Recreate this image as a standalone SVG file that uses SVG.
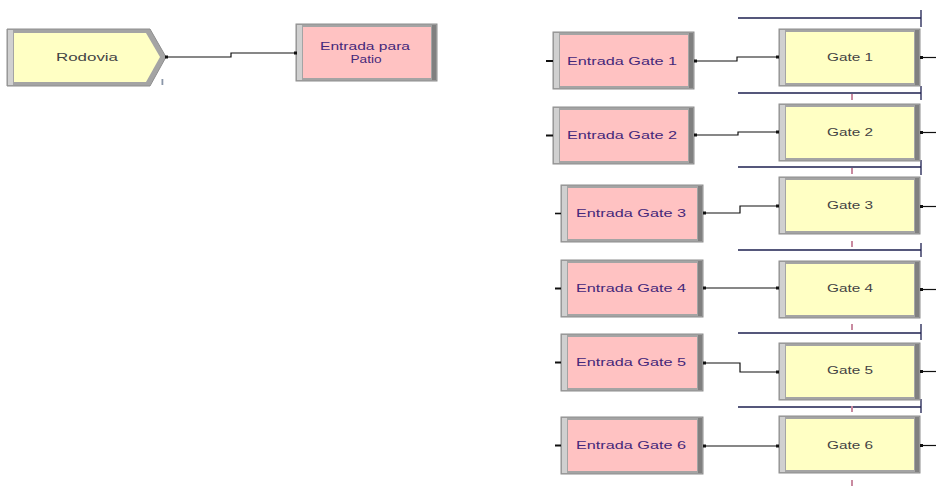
<svg xmlns="http://www.w3.org/2000/svg" width="936" height="486" viewBox="0 0 936 486">
<defs>
<style>
.frame{fill:#a4a4a4;stroke:#8e8e8e;stroke-width:1}
.lbar{fill:#d0d0d0}
.rbar{fill:#808080}
.yel{fill:#ffffc4}
.pink{fill:#ffc2c2}
.t{font-family:"Liberation Sans",Arial,sans-serif;font-size:10.5px;text-anchor:middle}
.tg{fill:#444444}
.tp{fill:#45287a}
.conn{fill:none;stroke:#111;stroke-width:1.2}
.q{fill:none;stroke:#1e2050;stroke-width:1.3}
.port{fill:#111}
.cnt{fill:#c98aa0}
</style>
</defs>
<rect width="936" height="486" fill="#ffffff"/>

<g id="connectors">
<polyline class="conn" points="167,57 231,57 231,53 296,53"/>
<polyline class="conn" points="694,61 737,61 737,57 778,57"/>
<polyline class="conn" points="694,135 738,135 738,132 778,132"/>
<polyline class="conn" points="703,213 740,213 740,206 778,206"/>
<polyline class="conn" points="703,288 778,288"/>
<polyline class="conn" points="703,363 740,363 740,372 778,372"/>
<polyline class="conn" points="703,446 778,446"/>
</g>

<g id="queues">
<path class="q" d="M738,18H921M921,10V27"/>
<path class="q" d="M738,93H921M921,86V100"/>
<path class="q" d="M738,167H921M921,160V175"/>
<path class="q" d="M738,250H921M921,243V257"/>
<path class="q" d="M738,333H921M921,324V340"/>
<path class="q" d="M738,407H921M921,399V413"/>
</g>

<g id="rodovia">
<polygon points="7,29 150,29 166,57 150,86 7,86" fill="#a4a4a4" stroke="#8e8e8e"/>
<rect x="8" y="30" width="5" height="55" class="lbar"/>
<polygon points="14,33 146,33 160,57 146,82 14,82" class="yel"/>
<text x="87" y="60.5" class="t tg" textLength="62" lengthAdjust="spacingAndGlyphs">Rodovia</text>
<rect x="165" y="55.5" width="3" height="3" class="port"/>
<rect x="161.5" y="79" width="1.8" height="6" fill="#8a96a8"/>
</g>

<g id="entrada-patio">
<rect x="296" y="24" width="141" height="57" class="frame"/>
<rect x="297" y="25" width="5" height="55" class="lbar"/>
<rect x="432" y="25" width="4" height="55" class="rbar"/>
<rect x="303" y="27" width="128" height="51" class="pink"/>
<text x="365" y="50" class="t tp" textLength="90" lengthAdjust="spacingAndGlyphs">Entrada para</text>
<text x="366" y="63" class="t tp" textLength="31" lengthAdjust="spacingAndGlyphs">Patio</text>
<rect x="294" y="51.5" width="3" height="3" class="port"/>
</g>

<g id="entrada-gate-1">
<rect x="553" y="32" width="141" height="57" class="frame"/>
<rect x="554" y="33" width="5" height="55" class="lbar"/>
<rect x="689" y="33" width="4" height="55" class="rbar"/>
<rect x="560" y="35" width="128" height="51" class="pink"/>
<text x="622" y="64.5" class="t tp" textLength="110" lengthAdjust="spacingAndGlyphs">Entrada Gate 1</text>
<path d="M546,61H553" stroke="#111" stroke-width="2"/>
<rect x="694" y="59.5" width="3" height="3" class="port"/>
</g>

<g id="entrada-gate-2">
<rect x="553" y="107" width="141" height="57" class="frame"/>
<rect x="554" y="108" width="5" height="55" class="lbar"/>
<rect x="689" y="108" width="4" height="55" class="rbar"/>
<rect x="560" y="110" width="128" height="51" class="pink"/>
<text x="622" y="139" class="t tp" textLength="110" lengthAdjust="spacingAndGlyphs">Entrada Gate 2</text>
<path d="M546,135.5H553" stroke="#111" stroke-width="2"/>
<rect x="694" y="133.5" width="3" height="3" class="port"/>
</g>

<g id="entrada-gate-3">
<rect x="561" y="185" width="142" height="57" class="frame"/>
<rect x="562" y="186" width="5" height="55" class="lbar"/>
<rect x="698" y="186" width="4" height="55" class="rbar"/>
<rect x="568" y="188" width="129" height="51" class="pink"/>
<text x="631" y="217" class="t tp" textLength="110" lengthAdjust="spacingAndGlyphs">Entrada Gate 3</text>
<path d="M555,213.5H561" stroke="#111" stroke-width="1.6"/>
<rect x="703" y="211.5" width="3" height="3" class="port"/>
</g>

<g id="entrada-gate-4">
<rect x="561" y="260" width="142" height="57" class="frame"/>
<rect x="562" y="261" width="5" height="55" class="lbar"/>
<rect x="698" y="261" width="4" height="55" class="rbar"/>
<rect x="568" y="263" width="129" height="51" class="pink"/>
<text x="631" y="292" class="t tp" textLength="110" lengthAdjust="spacingAndGlyphs">Entrada Gate 4</text>
<path d="M555,288.5H561" stroke="#111" stroke-width="2"/>
<rect x="703" y="286.5" width="3" height="3" class="port"/>
</g>

<g id="entrada-gate-5">
<rect x="561" y="334" width="142" height="57" class="frame"/>
<rect x="562" y="335" width="5" height="55" class="lbar"/>
<rect x="698" y="335" width="4" height="55" class="rbar"/>
<rect x="568" y="337" width="129" height="51" class="pink"/>
<text x="631" y="366" class="t tp" textLength="110" lengthAdjust="spacingAndGlyphs">Entrada Gate 5</text>
<path d="M555,362.5H561" stroke="#111" stroke-width="2"/>
<rect x="703" y="361.5" width="3" height="3" class="port"/>
</g>

<g id="entrada-gate-6">
<rect x="561" y="417" width="142" height="57" class="frame"/>
<rect x="562" y="418" width="5" height="55" class="lbar"/>
<rect x="698" y="418" width="4" height="55" class="rbar"/>
<rect x="568" y="420" width="129" height="51" class="pink"/>
<text x="631" y="449" class="t tp" textLength="110" lengthAdjust="spacingAndGlyphs">Entrada Gate 6</text>
<path d="M555,445.5H561" stroke="#111" stroke-width="2"/>
<rect x="703" y="444.5" width="3" height="3" class="port"/>
</g>

<g id="gate-1">
<rect x="779" y="29" width="141" height="57" class="frame"/>
<rect x="780" y="30" width="5" height="55" class="lbar"/>
<rect x="915" y="30" width="4" height="55" class="rbar"/>
<rect x="786" y="32" width="128" height="51" class="yel"/>
<text x="850" y="61" class="t tg" textLength="46" lengthAdjust="spacingAndGlyphs">Gate 1</text>
<rect x="776" y="55.5" width="3" height="3" class="port"/>
<rect x="920" y="56" width="3" height="3" class="port"/>
<path d="M922,57.5H936" stroke="#111" stroke-width="1.2"/>
<rect x="851" y="94" width="2" height="6" class="cnt"/>
</g>

<g id="gate-2">
<rect x="779" y="104" width="141" height="57" class="frame"/>
<rect x="780" y="105" width="5" height="55" class="lbar"/>
<rect x="915" y="105" width="4" height="55" class="rbar"/>
<rect x="786" y="107" width="128" height="51" class="yel"/>
<text x="850" y="136" class="t tg" textLength="46" lengthAdjust="spacingAndGlyphs">Gate 2</text>
<rect x="776" y="130.5" width="3" height="3" class="port"/>
<rect x="920" y="131" width="3" height="3" class="port"/>
<path d="M922,132.5H936" stroke="#111" stroke-width="1.2"/>
<rect x="851" y="168" width="2" height="6" class="cnt"/>
</g>

<g id="gate-3">
<rect x="779" y="177" width="141" height="57" class="frame"/>
<rect x="780" y="178" width="5" height="55" class="lbar"/>
<rect x="915" y="178" width="4" height="55" class="rbar"/>
<rect x="786" y="180" width="128" height="51" class="yel"/>
<text x="850" y="209" class="t tg" textLength="46" lengthAdjust="spacingAndGlyphs">Gate 3</text>
<rect x="776" y="204.5" width="3" height="3" class="port"/>
<rect x="920" y="205" width="3" height="3" class="port"/>
<path d="M922,206.5H936" stroke="#111" stroke-width="1.2"/>
<rect x="851" y="241" width="2" height="6" class="cnt"/>
</g>

<g id="gate-4">
<rect x="779" y="261" width="141" height="57" class="frame"/>
<rect x="780" y="262" width="5" height="55" class="lbar"/>
<rect x="915" y="262" width="4" height="55" class="rbar"/>
<rect x="786" y="264" width="128" height="51" class="yel"/>
<text x="850" y="291.5" class="t tg" textLength="46" lengthAdjust="spacingAndGlyphs">Gate 4</text>
<rect x="776" y="286.5" width="3" height="3" class="port"/>
<rect x="920" y="288" width="3" height="3" class="port"/>
<path d="M922,289.5H936" stroke="#111" stroke-width="1.2"/>
<rect x="851" y="324" width="2" height="6" class="cnt"/>
</g>

<g id="gate-5">
<rect x="779" y="343" width="141" height="57" class="frame"/>
<rect x="780" y="344" width="5" height="55" class="lbar"/>
<rect x="915" y="344" width="4" height="55" class="rbar"/>
<rect x="786" y="346" width="128" height="51" class="yel"/>
<text x="850" y="373.5" class="t tg" textLength="46" lengthAdjust="spacingAndGlyphs">Gate 5</text>
<rect x="776" y="370.5" width="3" height="3" class="port"/>
<rect x="920" y="370" width="3" height="3" class="port"/>
<path d="M922,371.5H936" stroke="#111" stroke-width="1.2"/>
<rect x="851" y="406" width="2" height="6" class="cnt"/>
</g>

<g id="gate-6">
<rect x="779" y="416" width="141" height="57" class="frame"/>
<rect x="780" y="417" width="5" height="55" class="lbar"/>
<rect x="915" y="417" width="4" height="55" class="rbar"/>
<rect x="786" y="419" width="128" height="51" class="yel"/>
<text x="850" y="448.5" class="t tg" textLength="46" lengthAdjust="spacingAndGlyphs">Gate 6</text>
<rect x="776" y="444.5" width="3" height="3" class="port"/>
<rect x="920" y="444" width="3" height="3" class="port"/>
<path d="M922,445.5H936" stroke="#111" stroke-width="1.2"/>
<rect x="851" y="480" width="2" height="6" class="cnt"/>
</g>
</svg>
